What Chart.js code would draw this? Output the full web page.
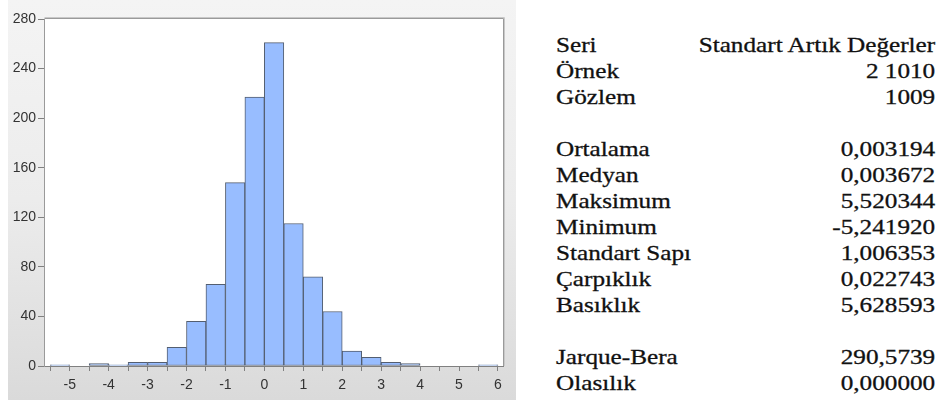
<!DOCTYPE html>
<html>
<head>
<meta charset="utf-8">
<script src="https://cdn.jsdelivr.net/npm/chart.js@4/dist/chart.umd.min.js"></script>
<style>
  html, body { margin:0; padding:0; background:#ffffff; width:943px; height:405px; overflow:hidden; }
  #panel { position:absolute; left:8px; top:0px; width:508px; height:400px;
           background:linear-gradient(to bottom, #f4f4f4 0%, #ececec 50%, #dadada 100%); }
  #stats { position:absolute; left:556px; top:32px; width:316px;
           font-family:"Liberation Serif","Times New Roman",serif; font-size:21px; line-height:26px;
           color:#111; -webkit-text-stroke:0.3px #111; transform:scaleX(1.2); transform-origin:0 0; }
  .row { display:flex; justify-content:space-between; height:26px; white-space:nowrap; }
</style>
</head>
<body>
<div id="panel"><canvas id="c" width="508" height="400"></canvas></div>
<div id="stats"></div>
<script>
// Histogram bins (width 0.5), left edges from -5.5 to 5.5
const binStarts = [-5.5,-5,-4.5,-4,-3.5,-3,-2.5,-2,-1.5,-1,-0.5,0,0.5,1,1.5,2,2.5,3,3.5,4,4.5,5,5.5];
const counts    = [1,0,2,1,3,3,15,36,66,148,217,261,115,72,44,12,7,3,2,0,0,0,1];
const binWidth = 0.5;
const yTicks = [0,40,80,120,160,200,240,280];
const xLabels = [-5,-4,-3,-2,-1,0,1,2,3,4,5,6];

const statLabels = ["Seri","Örnek","Gözlem","","Ortalama","Medyan","Maksimum","Minimum","Standart Sapı","Çarpıklık","Basıklık","","Jarque-Bera","Olasılık"];
const statValues = ["Standart Artık Değerler","2 1010","1009","","0,003194","0,003672","5,520344","-5,241920","1,006353","0,022743","5,628593","","290,5739","0,000000"];

const stats = document.getElementById('stats');
statLabels.forEach((l,i)=>{
  const r = document.createElement('div'); r.className='row';
  const a = document.createElement('span'); a.textContent = l;
  const b = document.createElement('span'); b.textContent = statValues[i];
  r.appendChild(a); r.appendChild(b); stats.appendChild(r);
});

const points = binStarts.map((s,i)=>({x: s + binWidth/2, y: counts[i] === 0 ? null : counts[i]}));

const tickFont = { family:'"Liberation Sans Narrow", "Liberation Sans", Arial, sans-serif', size:14 };

const framePlugin = {
  id:'frame',
  beforeDraw(chart){
    const {ctx, chartArea:a} = chart;
    ctx.save();
    ctx.fillStyle = '#ffffff';
    ctx.fillRect(a.left, a.top, a.right-a.left, a.bottom-a.top);
    ctx.restore();
  },
  afterDraw(chart){
    const {ctx, chartArea:a} = chart;
    ctx.save();
    ctx.strokeStyle = '#c8c8c8';
    ctx.lineWidth = 1;
    ctx.beginPath();
    ctx.moveTo(a.left+0.5, a.top-1.5); ctx.lineTo(a.right+1.5, a.top-1.5); ctx.lineTo(a.right+1.5, a.bottom);
    ctx.stroke();
    ctx.strokeStyle = '#9a9a9a';
    ctx.beginPath();
    ctx.moveTo(a.left+0.5, a.top-0.5); ctx.lineTo(a.right+0.5, a.top-0.5); ctx.lineTo(a.right+0.5, a.bottom);
    ctx.stroke();
    ctx.restore();
  }
};

new Chart(document.getElementById('c'), {
  type:'bar',
  data:{ datasets:[{
    data: points,
    backgroundColor:'#98bdff',
    borderColor:'#535e70',
    borderWidth:1,
    borderSkipped:false,
    barPercentage:1,
    categoryPercentage:1
  }]},
  options:{
    responsive:false,
    animation:false,
    devicePixelRatio:1,
    layout:{ padding:{ left:0, top:19, right:13, bottom:0 } },
    plugins:{ legend:{display:false}, tooltip:{enabled:false} },
    scales:{
      x:{
        type:'linear', min:-5.66, max:6.13, offset:false,
        afterFit(s){ s.height = 34; },
        grid:{ offset:false, drawOnChartArea:false, drawTicks:true, tickLength:5, color:'#808080' },
        border:{ display:true, color:'#808080', width:1 },
        ticks:{ stepSize:0.5, includeBounds:false, autoSkip:false, maxRotation:0,
          padding:6, color:'#333', font:tickFont,
          callback(v){ return xLabels.includes(v) ? String(v) : ''; } }
      },
      y:{
        min:0, max:280,
        afterFit(s){ s.width = 36; },
        afterBuildTicks(s){ s.ticks = yTicks.map(v=>({value:v})); },
        grid:{ drawOnChartArea:false, drawTicks:true, tickLength:6, color:'#808080' },
        border:{ display:true, color:'#9a9a9a', width:1 },
        ticks:{ padding:2, color:'#333', font:tickFont }
      }
    }
  },
  plugins:[framePlugin]
});
</script>
</body>
</html>
